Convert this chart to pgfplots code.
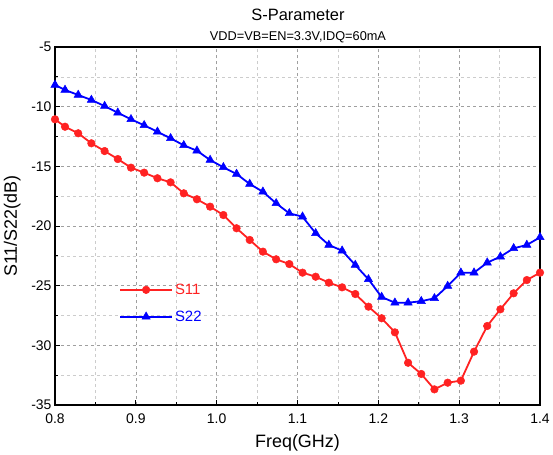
\documentclass[border=0pt]{standalone}
\usepackage{fontspec}
\setmainfont{Liberation Sans}
\usepackage{pgfplots}
\usepackage{pgfplotstable}
\pgfplotsset{compat=1.18}
\definecolor{sred}{HTML}{FF2222}
\definecolor{sblue}{HTML}{0000FF}

% freq (GHz), S11 (dB), S22 (dB)
\pgfplotstableread{
f      s11     s22
0.8000 -11.06  -8.18
0.8124 -11.68  -8.60
0.8287 -12.23  -9.02
0.8450 -13.07  -9.44
0.8614 -13.72  -9.95
0.8777 -14.39 -10.51
0.8940 -15.11 -11.06
0.9103 -15.53 -11.56
0.9267 -16.00 -12.10
0.9430 -16.34 -12.65
0.9593 -17.26 -13.24
0.9756 -17.76 -13.69
0.9919 -18.38 -14.47
1.0083 -19.08 -15.08
1.0246 -20.19 -15.64
1.0409 -21.17 -16.48
1.0572 -22.15 -17.13
1.0736 -22.79 -18.10
1.0899 -23.19 -18.94
1.1062 -23.91 -19.22
1.1225 -24.25 -20.61
1.1388 -24.75 -21.59
1.1552 -25.14 -22.07
1.1715 -25.70 -23.27
1.1878 -26.76 -24.47
1.2041 -27.73 -25.95
1.2205 -28.91 -26.43
1.2368 -31.46 -26.43
1.2531 -32.40 -26.30
1.2694 -33.69 -26.06
1.2858 -33.13 -25.03
1.3021 -32.96 -23.91
1.3184 -30.53 -23.91
1.3347 -28.38 -23.07
1.3510 -26.98 -22.57
1.3674 -25.64 -21.87
1.3837 -24.53 -21.59
1.4000 -23.91 -20.95
}\sdata

\begin{document}
\begin{tikzpicture}
\begin{axis}[
  at={(0bp,0bp)}, anchor=south west,
  scale only axis,
  width=485bp, height=358bp,
  xmin=0.8, xmax=1.4, ymin=-35, ymax=-5,
  xtick={0.8,0.9,...,1.41}, ytick={-35,-30,...,-5},
  minor tick num=1,
  tick align=inside,
  xtick pos=left, ytick pos=left,
  major tick length=5bp, minor tick length=3bp,
  tick style={black, line width=0.8pt},
  axis line style={black, line width=1.3pt},
  grid=both,
  major grid style={dashed, gray!75, line width=0.5pt},
  minor grid style={dashed, gray!40, line width=0.5pt},
  /pgf/number format/assume math mode=true,
  xticklabel style={yshift=-5bp, /pgf/number format/.cd, fixed, fixed zerofill, precision=1},
  yticklabel style={/pgf/number format/.cd, fixed, precision=0},
  tick label style={font=\fontsize{14}{16}\selectfont},
  xlabel={Freq(GHz)}, ylabel={S11/S22(dB)},
  label style={font=\fontsize{18}{20}\selectfont},
  xlabel style={at={(axis description cs:0.5,-0.105)}, anchor=center},
  ylabel style={at={(axis description cs:-0.088,0.5)}, anchor=center},
  legend style={at={(axis cs:0.8755,-24.5)}, anchor=north west, draw=none, fill=none,
    font=\fontsize{15}{17}\selectfont, row sep=11bp},
  legend cell align=left,
  legend image code/.code={
    \draw[mark repeat=2, mark phase=2] plot coordinates {(0bp,0bp) (26bp,0bp) (52bp,0bp)};
  },
  clip=false,
]
\addplot[sred, line width=1.8pt, mark=*, mark size=3.8bp, mark options={fill=sred, draw=sred, line width=0.5pt}]
  table[x=f, y=s11] {\sdata};
\addlegendentry{\textcolor{sred}{S11}}
\addplot[sblue, line width=1.8pt, mark=triangle*, mark size=4.8bp, mark options={fill=sblue, draw=sblue, line width=0.5pt}]
  table[x=f, y=s22] {\sdata};
\addlegendentry{\textcolor{sblue}{S22}}
\node[font=\fontsize{16.5}{18}\selectfont] at (axis description cs:0.501,1.09) {S-Parameter};
\node[font=\fontsize{12.8}{14}\selectfont] at (axis description cs:0.501,1.027) {VDD=VB=EN=3.3V,IDQ=60mA};
\end{axis}
\pgfresetboundingbox
\path[use as bounding box] (-55bp,-50bp) rectangle (498bp,405bp);
\end{tikzpicture}
\end{document}
